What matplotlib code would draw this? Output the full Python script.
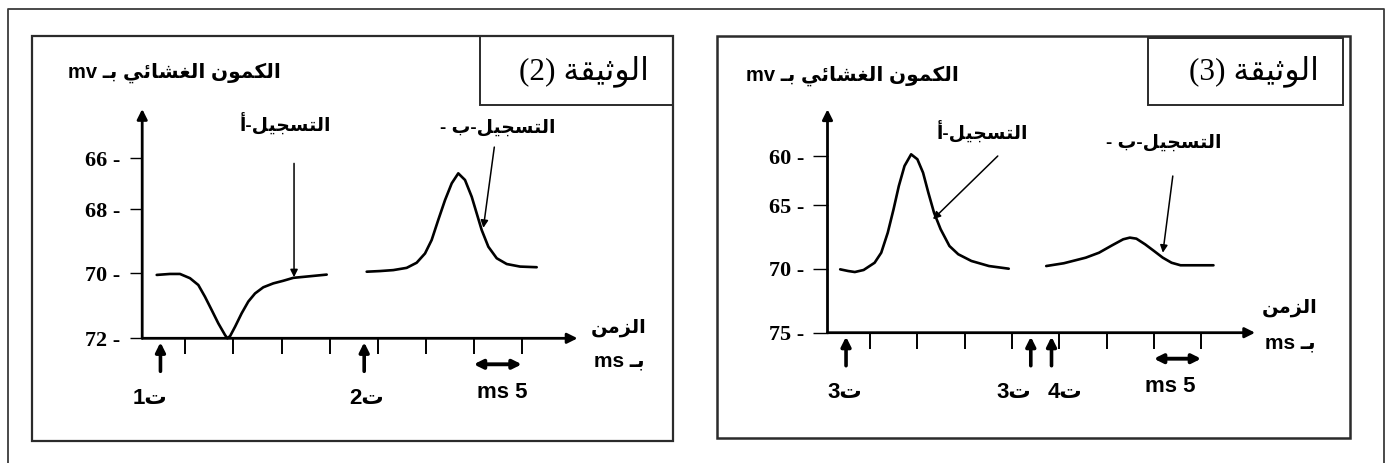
import numpy as np
import matplotlib
matplotlib.use("Agg")
import matplotlib.pyplot as plt
from matplotlib.patches import Rectangle

# ---------------------------------------------------------------- data
# membrane potential recordings (time in ms, potential in mV)
# document 2
d2_ticks_mv = [-66, -68, -70, -72]
d2_time_ticks = [5, 10, 15, 20, 25, 30, 35, 40]
d2_stim_t = [2.4, 23.6]
d2_stim_labels = ["1", "2"]
d2_a_t = [2.01, 3.39, 4.43, 5.47, 6.34, 7.03, 7.73, 8.42, 9.12, 9.36, 9.65, 10.17,
          10.85, 11.54, 12.24, 13.10, 14.14, 15.18, 16.22, 17.62, 18.66, 19.70]
d2_a_mv = [-70.05, -70.02, -70.02, -70.15, -70.36, -70.72, -71.13, -71.54, -71.90,
           -72.00, -71.93, -71.64, -71.23, -70.87, -70.62, -70.43, -70.31, -70.23,
           -70.14, -70.10, -70.07, -70.04]
d2_b_t = [23.86, 25.24, 26.63, 28.02, 29.06, 29.93, 30.62, 31.31, 32.01, 32.71,
          33.39, 34.09, 34.79, 35.31, 35.83, 36.52, 37.39, 38.43, 39.82, 41.55]
d2_b_mv = [-69.95, -69.93, -69.90, -69.83, -69.67, -69.38, -68.96, -68.33, -67.64,
           -66.98, -66.59, -66.85, -67.51, -68.13, -68.65, -69.17, -69.53, -69.71,
           -69.79, -69.81]

# document 3
d3_ticks_mv = [-60, -65, -70, -75]
d3_time_ticks = [5, 10, 15, 20, 25, 30, 35, 40]
d3_stim_t = [2.46, 21.99, 24.18]
d3_stim_labels = ["3", "3", "4"]
d3_a_t = [1.84, 2.68, 3.39, 4.32, 5.48, 6.18, 6.87, 7.48, 8.04, 8.64, 9.34, 10.00,
          10.60, 11.16, 11.76, 12.46, 13.39, 14.32, 15.71, 17.57, 19.66]
d3_a_mv = [-70.05, -70.18, -70.26, -70.10, -69.53, -68.74, -67.16, -65.32, -63.04,
           -61.01, -59.83, -60.33, -61.69, -63.72, -65.58, -66.89, -68.21, -68.86,
           -69.39, -69.79, -70.00]
d3_b_t = [23.62, 25.48, 27.80, 29.20, 30.60, 31.76, 32.46, 33.15, 34.08, 35.01,
          35.94, 36.87, 37.82, 39.44, 41.30]
d3_b_mv = [-69.79, -69.57, -69.13, -68.74, -68.15, -67.68, -67.55, -67.63, -68.08,
           -68.60, -69.13, -69.53, -69.73, -69.73, -69.73]

scale_bar_ms = (35, 40)

# labels (logical Arabic text)
TXT_YLABEL = "الكمون الغشائي بـ"
TXT_DOC = "الوثيقة"
TXT_REC_A = "التسجيل-أ"
TXT_REC_B = "التسجيل-ب -"
TXT_TIME = "الزمن"
TXT_IN = "بـ"
TXT_STIM = "ت"

# ---------------------------------------------------------------- arabic shaping
FORMS = {
    '\u0627': ('\uFE8D', '\uFE8E', None, None),
    '\u0623': ('\uFE83', '\uFE84', None, None),
    '\u0628': ('\uFE8F', '\uFE90', '\uFE91', '\uFE92'),
    '\u0629': ('\uFE93', '\uFE94', None, None),
    '\u062A': ('\uFE95', '\uFE96', '\uFE97', '\uFE98'),
    '\u062B': ('\uFE99', '\uFE9A', '\uFE9B', '\uFE9C'),
    '\u062C': ('\uFE9D', '\uFE9E', '\uFE9F', '\uFEA0'),
    '\u0632': ('\uFEAF', '\uFEB0', None, None),
    '\u0633': ('\uFEB1', '\uFEB2', '\uFEB3', '\uFEB4'),
    '\u0634': ('\uFEB5', '\uFEB6', '\uFEB7', '\uFEB8'),
    '\u063A': ('\uFECD', '\uFECE', '\uFECF', '\uFED0'),
    '\u0642': ('\uFED5', '\uFED6', '\uFED7', '\uFED8'),
    '\u0643': ('\uFED9', '\uFEDA', '\uFEDB', '\uFEDC'),
    '\u0644': ('\uFEDD', '\uFEDE', '\uFEDF', '\uFEE0'),
    '\u0645': ('\uFEE1', '\uFEE2', '\uFEE3', '\uFEE4'),
    '\u0646': ('\uFEE5', '\uFEE6', '\uFEE7', '\uFEE8'),
    '\u0648': ('\uFEED', '\uFEEE', None, None),
    '\u064A': ('\uFEF1', '\uFEF2', '\uFEF3', '\uFEF4'),
    '\u0626': ('\uFE89', '\uFE8A', '\uFE8B', '\uFE8C'),
}
TATWEEL = '\u0640'


def _joins_left(c):
    return c == TATWEEL or (c in FORMS and FORMS[c][2] is not None)


def ar(s):
    """Contextual shaping + right-to-left ordering for a pure Arabic run."""
    out = []
    for i, c in enumerate(s):
        if c not in FORMS:
            out.append(c)
            continue
        f = FORMS[c]
        prev = s[i - 1] if i > 0 else None
        nxt = s[i + 1] if i + 1 < len(s) else None
        jp = prev is not None and _joins_left(prev)
        jn = f[2] is not None and nxt is not None and (nxt in FORMS or nxt == TATWEEL)
        if jp and jn:
            out.append(f[3])
        elif jp:
            out.append(f[1])
        elif jn:
            out.append(f[2])
        else:
            out.append(f[0])
    return ''.join(reversed(out))


# ---------------------------------------------------------------- layout
W, H, DPI = 1389, 463, 100
SANS = ['Liberation Sans', 'DejaVu Sans']
SERIF = ['Liberation Serif', 'DejaVu Sans']


def pw_scale(levels, us):
    levels = np.asarray(levels, float)
    us = np.asarray(us, float)
    s_lo = (us[1] - us[0]) / (levels[1] - levels[0])
    s_hi = (us[-1] - us[-2]) / (levels[-1] - levels[-2])

    def fwd(v):
        v = np.asarray(v, float)
        return np.where(v < levels[0], us[0] + (v - levels[0]) * s_lo,
                        np.where(v > levels[-1], us[-1] + (v - levels[-1]) * s_hi,
                                 np.interp(v, levels, us)))

    def inv(u):
        u = np.asarray(u, float)
        return np.where(u < us[0], levels[0] + (u - us[0]) / s_lo,
                        np.where(u > us[-1], levels[-1] + (u - us[-1]) / s_hi,
                                 np.interp(u, us, levels)))
    return fwd, inv


fig = plt.figure(figsize=(W / DPI, H / DPI), dpi=DPI)
ov = fig.add_axes([0, 0, 1, 1], zorder=0)
ov.set_xlim(0, W)
ov.set_ylim(H, 0)
ov.axis('off')


def px_axes(x0, ybot, width, height):
    return fig.add_axes([x0 / W, 1 - ybot / H, width / W, height / H], zorder=2)


def frame(x0, y0, x1, y1, lw=1.4, color='#2b2b2b'):
    ov.add_patch(Rectangle((x0, y0), x1 - x0, y1 - y0, fill=False, lw=lw,
                           edgecolor=color))


def txt(x, y, s, size, family=SANS, weight='bold', **kw):
    ov.text(x, y, s, fontsize=size, family=family, fontweight=weight,
            ha='center', va='center', color='k', **kw)


# outer frame (open at the bottom)
ov.plot([8, 8, 1384, 1384], [470, 9, 9, 470], color='#3a3a3a', lw=1.3)


def panel(cfg):
    fwd, inv = pw_scale(cfg['levels'], cfg['us'])
    ax = px_axes(cfg['x0'], cfg['ybot'], (cfg['xlim'][1] - cfg['xlim'][0]) * cfg['pxms'],
                 cfg['us_top'])
    ax.set_xlim(*cfg['xlim'])
    ax.set_yscale('function', functions=(fwd, inv))
    ax.set_ylim(cfg['levels'][0], float(inv(cfg['us_top'])))
    for s in ax.spines.values():
        s.set_visible(False)
    ax.patch.set_visible(False)

    for t, v in ((cfg['a_t'], cfg['a_mv']), (cfg['b_t'], cfg['b_mv'])):
        ax.plot(t, v, color='k', lw=1.9, solid_joinstyle='round',
                solid_capstyle='round', clip_on=False)

    ybot = cfg['levels'][0]
    ytop = float(inv(cfg['us_top']))
    x0 = cfg['xlim'][0]
    arr = dict(arrowstyle='-|>', lw=2.0, color='k', mutation_scale=15,
               shrinkA=0, shrinkB=0)
    ax.annotate('', xy=(cfg['x_end'], ybot), xytext=(x0, ybot), arrowprops=arr,
                annotation_clip=False)
    ax.annotate('', xy=(x0, ytop), xytext=(x0, ybot), arrowprops=arr,
                annotation_clip=False)

    ax.set_xticks(cfg['xticks'])
    ax.tick_params(axis='x', direction='out', length=11.5, width=1.4,
                   labelbottom=False, color='k')
    ax.set_yticks(cfg['yticks'])
    ax.set_yticklabels([f"{abs(v):d} -" for v in cfg['yticks']])
    ax.tick_params(axis='y', direction='out', length=cfg['ytick_len'], width=1.0,
                   pad=cfg['ytick_pad'], color='k')
    ax.minorticks_off()
    for lab in ax.get_yticklabels():
        lab.set_fontfamily(['Liberation Serif'])
        lab.set_fontweight('bold')
        lab.set_fontsize(cfg['ytick_size'])

    # stimulation arrows
    st = dict(arrowstyle='-|>', lw=2.6, color='k', mutation_scale=14,
              shrinkA=0, shrinkB=0)
    for t in cfg['stim']:
        ax.annotate('', xy=(t, -4), xycoords=('data', 'axes pixels'),
                    xytext=(t, -33), textcoords=('data', 'axes pixels'),
                    arrowprops=st, annotation_clip=False)

    # 5 ms scale bar
    ax.annotate('', xy=(scale_bar_ms[1], -cfg['bar_dy']), xycoords=('data', 'axes pixels'),
                xytext=(scale_bar_ms[0], -cfg['bar_dy']), textcoords=('data', 'axes pixels'),
                arrowprops=dict(arrowstyle='<|-|>', lw=2.8, color='k', mutation_scale=13,
                                shrinkA=0, shrinkB=0), annotation_clip=False)

    # pointers to the two recordings
    pt = dict(arrowstyle='-|>', lw=1.1, color='k', mutation_scale=11,
              shrinkA=0, shrinkB=0)
    for tail, tip in cfg['pointers']:
        ax.annotate('', xy=tip, xytext=tail, arrowprops=pt, annotation_clip=False)
    return ax


cfg2 = dict(levels=[-72, -70, -68, -66], us=[0, 65, 129, 180], us_top=229.3,
            x0=142.2, ybot=338.3, pxms=9.61, xlim=(0.5, 46.0), x_end=45.8,
            xticks=d2_time_ticks, yticks=d2_ticks_mv, ytick_len=9, ytick_pad=7,
            ytick_size=16, a_t=d2_a_t, a_mv=d2_a_mv, b_t=d2_b_t, b_mv=d2_b_mv,
            stim=d2_stim_t, bar_dy=26,
            pointers=[((16.3, -66.2), (16.3, -70.12)), ((37.14, -65.56), (36.0, -68.58))])
cfg3 = dict(levels=[-75, -70, -65, -60], us=[0, 64, 127.4, 176.7], us_top=223.4,
            x0=827.5, ybot=332.7, pxms=9.46, xlim=(0.5, 46.0), x_end=45.7,
            xticks=d3_time_ticks, yticks=d3_ticks_mv, ytick_len=11, ytick_pad=6,
            ytick_size=16, a_t=d3_a_t, a_mv=d3_a_mv, b_t=d3_b_t, b_mv=d3_b_mv,
            stim=d3_stim_t, bar_dy=26,
            pointers=[((18.5, -60.0), (11.65, -66.1)), ((37.0, -62.03), (35.95, -68.74))])

panel(cfg2)
panel(cfg3)

# panel frames and title boxes
frame(32, 36, 673, 441, lw=1.6)
frame(480, 36, 673, 105, lw=1.4)
frame(717, 36, 1350, 438, lw=1.8)
frame(1148, 38, 1343, 105, lw=1.4)

# texts: document 2
txt(584, 71, "(2) " + ar(TXT_DOC), 22.5, family=SERIF, weight='normal')
txt(174, 73, "mv " + ar(TXT_YLABEL), 14.5)
txt(285, 123, ar(TXT_REC_A), 13.5)
txt(498, 128, ar(TXT_REC_B), 13.5)
txt(619, 328, ar(TXT_TIME), 14)
txt(619, 361, "ms " + ar(TXT_IN), 15)
for xc, lab in zip([150, 367], d2_stim_labels):
    txt(xc, 399, lab + ar(TXT_STIM), 16)
txt(502, 393, "ms 5", 16)

# texts: document 3
txt(1254, 71, "(3) " + ar(TXT_DOC), 22.5, family=SERIF, weight='normal')
txt(852, 76, "mv " + ar(TXT_YLABEL), 14.5)
txt(982, 131, ar(TXT_REC_A), 13.5)
txt(1164, 143, ar(TXT_REC_B), 13.5)
txt(1290, 308, ar(TXT_TIME), 14)
txt(1290, 343, "ms " + ar(TXT_IN), 15)
for xc, lab in zip([845, 1014, 1065], d3_stim_labels):
    txt(xc, 393, lab + ar(TXT_STIM), 16)
txt(1170, 386, "ms 5", 16)

fig.savefig("out.png", dpi=DPI, facecolor='white')
